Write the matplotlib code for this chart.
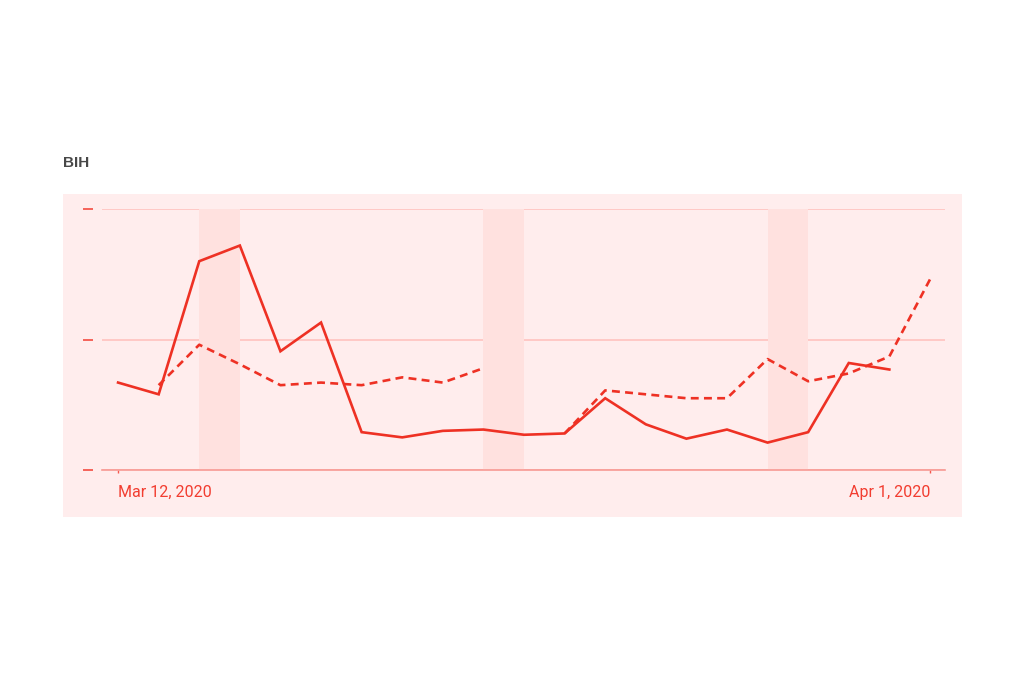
import matplotlib.pyplot as plt
from matplotlib.patches import Rectangle
import numpy as np
import pandas as pd

plt.rcParams['font.family'] = ['Roboto', 'DejaVu Sans']

dates = pd.date_range('2020-03-12', '2020-04-01', freq='D')
solid = [0.67, 0.58, 1.60, 1.72, 0.91, 1.13, 0.29, 0.25, 0.30, 0.31,
         0.27, 0.28, 0.55, 0.35, 0.24, 0.31, 0.21, 0.29, 0.82, 0.77, np.nan]
dashed = [np.nan, 0.65, 0.96, 0.81, 0.65, 0.67, 0.65, 0.71, 0.67, 0.78,
          np.nan, 0.28, 0.61, 0.58, 0.55, 0.55, 0.85, 0.68, 0.74, 0.87, 1.46]
weekends = [('2020-03-14', '2020-03-15'), ('2020-03-21', '2020-03-22'),
            ('2020-03-28', '2020-03-29')]
tick_dates = ['2020-03-12', '2020-04-01']
tick_labels = ['Mar 12, 2020', 'Apr 1, 2020']
title = 'BIH'

red = '#ee3124'
fig = plt.figure(figsize=(10.24, 6.8), dpi=100)
fig.patches.append(Rectangle((63 / 1024, 1 - 517 / 680), 899 / 1024, 323 / 680,
                             transform=fig.transFigure, facecolor='#ffeded',
                             edgecolor='none', zorder=-1))
fig.text(63 / 1024, 1 - 163 / 680, title, fontsize=11, fontweight='bold',
         family=['Liberation Sans', 'DejaVu Sans'],
         color='#484848', va='center', ha='left')

ax = fig.add_axes([102 / 1024, 1 - 470 / 680, 843 / 1024, 261 / 680])
ax.set_facecolor('none')

for a, b in weekends:
    ax.axvspan(pd.Timestamp(a), pd.Timestamp(b), color='#ffe1df', lw=0, zorder=1)

ax.plot(dates, solid, color=red, lw=1.9, zorder=4, clip_on=False,
        solid_joinstyle='miter')
ax.plot(dates, dashed, color=red, lw=1.9, ls=(0, (3, 2)), zorder=3, clip_on=False)

d0 = pd.Timestamp('2020-03-12')
ax.set_xlim(d0 - pd.Timedelta(hours=9.5), d0 + pd.Timedelta(days=20, hours=8.9))
ax.set_ylim(0, 2)
ax.set_yticks([0, 1, 2])
ax.set_yticklabels([])
ax.grid(axis='y', color='#ffc2bf', lw=1.2, zorder=2)
for gl in ax.get_ygridlines():
    gl.set_clip_on(False)
ax.set_axisbelow(True)

for s in ['top', 'right', 'left']:
    ax.spines[s].set_visible(False)
ax.spines['bottom'].set_color('#f79a94')
ax.spines['bottom'].set_linewidth(1.2)
ax.spines['left'].set_position(('outward', 6.5))
ax.tick_params(axis='y', length=7.2, width=1.3, color='#f5584e')

ax.set_xticks([pd.Timestamp(t) for t in tick_dates])
ax.set_xticklabels(tick_labels, color='#f23d30', fontsize=11.5)
ax.tick_params(axis='x', length=2.5, width=1, color='#f5584e', pad=8)
labs = ax.get_xticklabels()
labs[0].set_ha('left')
labs[1].set_ha('right')

fig.savefig('out.png', dpi=100)
